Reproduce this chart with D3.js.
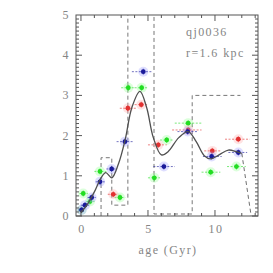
<!DOCTYPE html>
<html>
<head>
<meta charset="utf-8">
<script src="https://cdn.jsdelivr.net/npm/d3@7"></script>
<style>
  body { margin: 0; background: #fff; }
  text { font-family: "Liberation Serif", "DejaVu Serif", serif; fill: #858585; letter-spacing: 1.4px; }
</style>
</head>
<body>
<svg width="273" height="273"></svg>
<script>
const WIDTH = 273
const HEIGHT = 273
const LEFT = 76, RIGHT = 258, TOP = 15, BOTTOM = 216

// smooth fit curve (age Gyr, value)
const curveAge = [0, 0.5, 1.0, 1.5, 1.85, 2.3, 2.8, 3.3, 3.8, 4.4, 4.9, 5.4, 6.0, 6.5, 7.3, 8.0, 8.6, 9.2, 9.7, 10.3, 11.0, 11.6, 12.0]
const curveVal = [0.08, 0.3, 0.6, 0.95, 1.08, 0.95, 1.3, 1.9, 2.7, 3.1, 2.7, 1.95, 1.52, 1.6, 1.95, 2.1, 1.85, 1.5, 1.42, 1.52, 1.64, 1.6, 1.56]
const tailAge = [12.0, 12.7]
const tailVal = [1.56, 0]

// dashed step histogram
const binEdges = [1.5, 2.3, 3.5, 5.45, 8.3, 11.9]
const binHeights = [1.45, 0.27, 5.6, 0.05, 3.0]

// points: [age, value, ageLo, ageHi]
const bluePts = [
  [0.05, 0.15, -0.2, 0.3], [0.3, 0.27, 0.0, 0.6], [0.8, 0.46, 0.5, 1.1],
  [1.42, 0.85, 1.1, 1.8], [2.29, 1.17, 1.9, 2.7], [3.28, 1.85, 2.66, 3.9],
  [4.65, 3.59, 3.8, 5.3], [6.19, 1.23, 5.4, 7.0], [7.96, 2.1, 7.2, 8.7],
  [9.75, 1.48, 9.1, 10.5], [11.74, 1.58, 11.0, 12.4]
]
const redPts = [
  [2.41, 0.54, 2.0, 2.8], [3.5, 2.68, 2.9, 4.2], [4.5, 2.77, 4.0, 5.0],
  [5.77, 1.77, 5.0, 6.4], [8.0, 2.14, 6.8, 9.0], [9.8, 1.62, 9.2, 10.4],
  [11.74, 1.91, 10.75, 12.6]
]
const greenPts = [
  [0.05, 0.15, -0.2, 0.3], [0.17, 0.56, -0.1, 0.5], [0.67, 0.36, 0.4, 1.0],
  [1.42, 1.11, 1.0, 1.9], [2.91, 0.46, 2.5, 3.3], [3.53, 3.19, 3.0, 4.0],
  [4.53, 3.19, 4.0, 5.0], [5.47, 0.95, 5.0, 5.9], [6.4, 1.89, 5.9, 6.9],
  [8.0, 2.31, 7.0, 9.0], [9.68, 1.09, 9.0, 10.4], [11.6, 1.23, 10.9, 12.3]
]

const xTicks = [0, 5, 10]
const yTicks = [0, 1, 2, 3, 4, 5]

const svg = d3.select("svg")
const x = d3.scaleLinear().domain([-0.37, 13.21]).range([LEFT, RIGHT])
const y = d3.scaleLinear().domain([0, 5]).range([BOTTOM, TOP])

let plot = svg.append("g")
svg.append("defs").append("clipPath").attr("id", "clip")
  .append("rect").attr("x", LEFT).attr("y", TOP)
  .attr("width", RIGHT - LEFT).attr("height", BOTTOM - TOP)
plot.attr("clip-path", "url(#clip)")

// histogram steps
let stepPts = [[binEdges[0], 0]]
binHeights.forEach((h, i) => {
  stepPts.push([binEdges[i], h])
  stepPts.push([binEdges[i + 1], h])
})
plot.append("path")
  .attr("d", d3.line().x(d => x(d[0])).y(d => y(d[1]))(stepPts))
  .attr("fill", "none")
  .attr("stroke", "#777")
  .attr("stroke-width", 1)
  .attr("stroke-dasharray", "4,3")

// points with error bars
function drawSeries(pts, col, halo) {
  let g = plot.append("g")
  pts.forEach(p => {
    g.append("circle").attr("cx", x(p[0])).attr("cy", y(p[1])).attr("r", 5)
      .attr("fill", halo).attr("opacity", 0.35)
    g.append("line")
      .attr("x1", x(p[2])).attr("x2", x(p[3]))
      .attr("y1", y(p[1])).attr("y2", y(p[1]))
      .attr("stroke", col).attr("stroke-width", 1).attr("opacity", 0.6)
      .attr("stroke-dasharray", "2,1.5")
    g.append("line")
      .attr("x1", x(p[0])).attr("x2", x(p[0]))
      .attr("y1", y(p[1]) - 3).attr("y2", y(p[1]) + 3)
      .attr("stroke", col).attr("stroke-width", 1).attr("opacity", 0.6)
  })
  g.selectAll("circle.pt").data(pts).enter().append("circle")
    .classed("pt", true)
    .attr("cx", d => x(d[0])).attr("cy", d => y(d[1]))
    .attr("r", 2.4).attr("fill", col)
}
drawSeries(greenPts, "#22dd22", "#99ff99")
drawSeries(redPts, "#e23030", "#ffb0b0")
drawSeries(bluePts, "#1a1a9a", "#a0a0ff")

// smooth curve
const curveData = curveAge.map((a, i) => [a, curveVal[i]])
plot.append("path")
  .attr("d", d3.line().x(d => x(d[0])).y(d => y(d[1])).curve(d3.curveCatmullRom)(curveData))
  .attr("fill", "none").attr("stroke", "#505050").attr("stroke-width", 1.3)
plot.append("path")
  .attr("d", d3.line().x(d => x(d[0])).y(d => y(d[1]))(tailAge.map((a, i) => [a, tailVal[i]])))
  .attr("fill", "none").attr("stroke", "#707070").attr("stroke-width", 1)
  .attr("stroke-dasharray", "4,3")

// frame and ticks
let axes = svg.append("g").attr("stroke", "#555").attr("stroke-width", 1)
axes.append("rect").attr("x", LEFT).attr("y", TOP)
  .attr("width", RIGHT - LEFT).attr("height", BOTTOM - TOP).attr("fill", "none")

d3.range(0, 14, 1).forEach(t => {
  let len = xTicks.includes(t) ? 6 : 3
  axes.append("line").attr("x1", x(t)).attr("x2", x(t)).attr("y1", BOTTOM).attr("y2", BOTTOM - len)
  axes.append("line").attr("x1", x(t)).attr("x2", x(t)).attr("y1", TOP).attr("y2", TOP + len)
})
d3.range(0, 50, 1).forEach(k => {
  let v = k / 10
  let len = k % 10 === 0 ? 6 : 3
  axes.append("line").attr("x1", LEFT).attr("x2", LEFT + len).attr("y1", y(v)).attr("y2", y(v))
  axes.append("line").attr("x1", RIGHT).attr("x2", RIGHT - len).attr("y1", y(v)).attr("y2", y(v))
})

svg.selectAll("text.xt").data(xTicks).enter().append("text")
  .attr("x", d => x(d) + 1).attr("y", 233).attr("text-anchor", "middle")
  .attr("font-size", 12).text(d => d)
svg.selectAll("text.yt").data(yTicks).enter().append("text")
  .attr("x", 70).attr("y", d => y(d) + 4).attr("text-anchor", "end")
  .attr("font-size", 12).text(d => d)

svg.append("text").attr("x", 168).attr("y", 254).attr("text-anchor", "middle")
  .attr("font-size", 12).text("age (Gyr)")
svg.append("text").attr("x", 186).attr("y", 36).attr("font-size", 12).text("qj0036")
svg.append("text").attr("x", 186).attr("y", 57).attr("font-size", 12).text("r=1.6 kpc")
</script>
</body>
</html>
